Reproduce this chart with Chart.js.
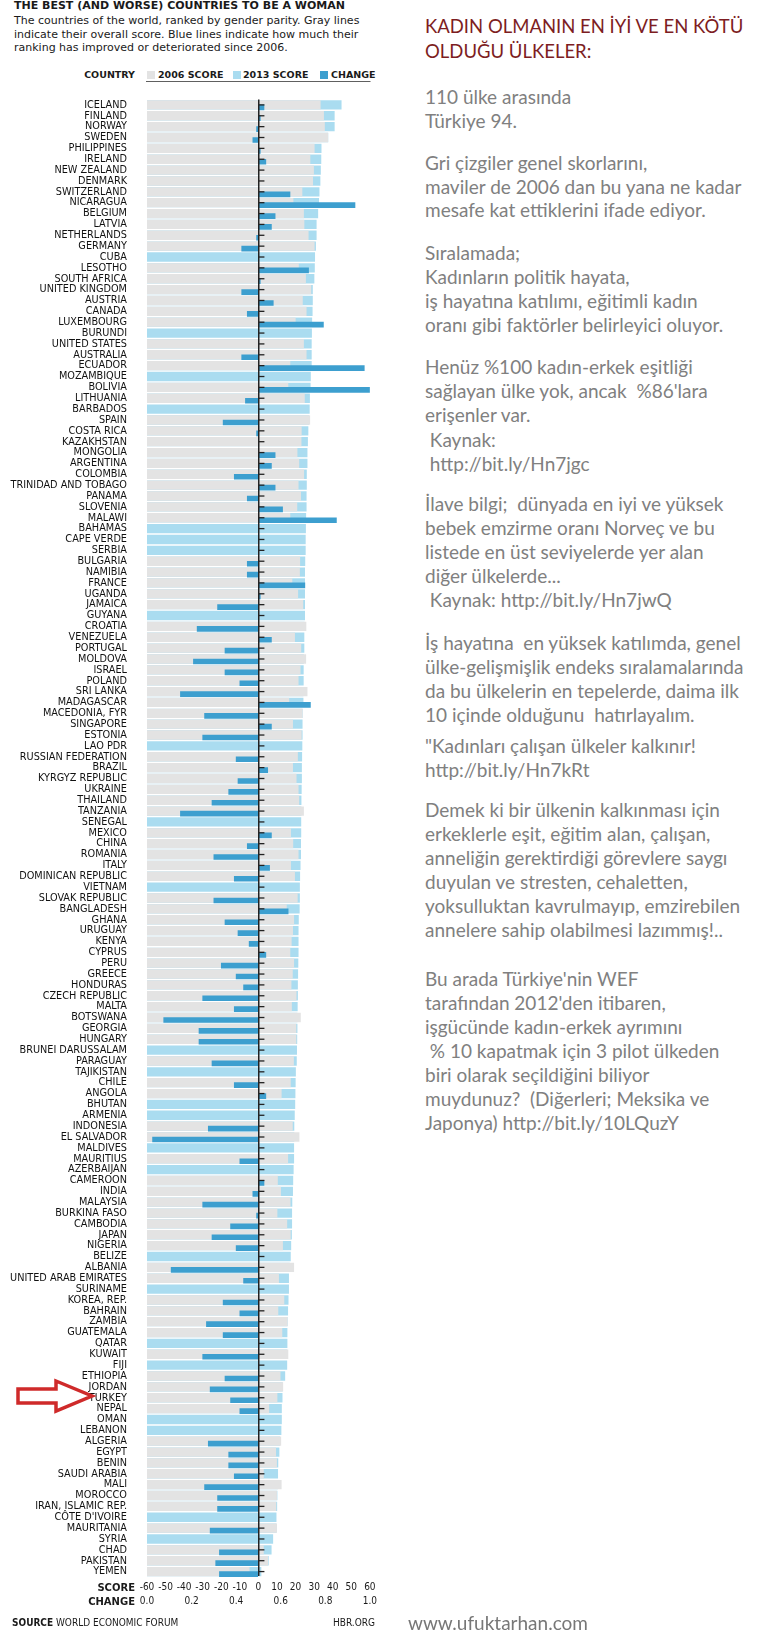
<!DOCTYPE html>
<html>
<head>
<meta charset="utf-8">
<script src="https://cdn.jsdelivr.net/npm/chart.js@4.4.0/dist/chart.umd.min.js"></script>
<style>
body { margin: 0; background: #fff; width: 772px; height: 1648px; position: relative; overflow: hidden; font-family: Roboto, sans-serif; color: #1a1a1a; }
.abs { position: absolute; white-space: pre; }
.hbr-title { left: 14px; top: 0px; font: bold 11px/12px "DejaVu Sans", sans-serif; }
.hbr-sub { left: 14px; top: 14px; font: 11px/13.5px "DejaVu Sans", sans-serif; }
.legend { top: 69px; font: bold 9.5px/12px "DejaVu Sans", sans-serif; }
.sw { position: absolute; top: 71px; width: 8px; height: 8px; }
.axis-name { font: bold 10px/12px "DejaVu Sans", sans-serif; width: 120px; text-align: right; left: 15px; }
.foot { font: 10px/12px "DejaVu Sans Condensed", Roboto, sans-serif; top: 1617px; }
.note { left: 425px; font: 19px/24px Lato, sans-serif; color: #808080; }
</style>
</head>
<body>

<div class="abs hbr-title">THE BEST (AND WORSE) COUNTRIES TO BE A WOMAN</div>
<div class="abs hbr-sub">The countries of the world, ranked by gender parity. Gray lines
indicate their overall score. Blue lines indicate how much their
ranking has improved or deteriorated since 2006.</div>

<div class="abs legend" style="left:15px;width:120px;text-align:right">COUNTRY</div>
<div class="sw" style="left:147px;background:#e3e3e3"></div>
<div class="abs legend" style="left:158px">2006 SCORE</div>
<div class="sw" style="left:233px;background:#aadcf0"></div>
<div class="abs legend" style="left:243px">2013 SCORE</div>
<div class="sw" style="left:320px;background:#3d9fcf"></div>
<div class="abs legend" style="left:331px">CHANGE</div>

<canvas id="genderChart" width="380" height="1530" style="position:absolute;left:0;top:81px"></canvas>

<div class="abs axis-name" style="top:1582px">SCORE</div>
<div class="abs axis-name" style="top:1596px">CHANGE</div>

<div class="abs foot" style="left:12px"><b>SOURCE</b> WORLD ECONOMIC FORUM</div>
<div class="abs foot" style="left:255px;width:120px;text-align:right">HBR.ORG</div>
<div class="abs" style="left:408px;top:1610px;font:19px/26px Lato,sans-serif;color:#777">www.ufuktarhan.com</div>

<svg class="abs" style="left:14px;top:1376px" width="84" height="40">
  <polygon points="4,13 42,13 42,5 78,20 42,35 42,27 4,27" fill="#fff" stroke="#cf2a2a" stroke-width="3.5" stroke-linejoin="miter"/>
</svg>

<div class="abs note" style="top:14px;line-height:25px;font-size:18.5px;color:#7d1d22">KADIN OLMANIN EN İYİ VE EN KÖTÜ
OLDUĞU ÜLKELER:</div>
<div class="abs note" style="top:85px">110 ülke arasında
Türkiye 94.</div>
<div class="abs note" style="top:151px;line-height:23.5px">Gri çizgiler genel skorlarını,
maviler de 2006 dan bu yana ne kadar
mesafe kat ettiklerini ifade ediyor.</div>
<div class="abs note" style="top:241px">Sıralamada;
Kadınların politik hayata,
iş hayatına katılımı, eğitimli kadın
oranı gibi faktörler belirleyici oluyor.</div>
<div class="abs note" style="top:355px;line-height:24.2px">Henüz %100 kadın-erkek eşitliği
sağlayan ülke yok, ancak  %86'lara
erişenler var.
 Kaynak:
 http://bit.ly/Hn7jgc</div>
<div class="abs note" style="top:492px">İlave bilgi;  dünyada en iyi ve yüksek
bebek emzirme oranı Norveç ve bu
listede en üst seviyelerde yer alan
diğer ülkelerde...
 Kaynak: http://bit.ly/Hn7jwQ</div>
<div class="abs note" style="top:631px">İş hayatına  en yüksek katılımda, genel
ülke-gelişmişlik endeks sıralamalarında
da bu ülkelerin en tepelerde, daima ilk
10 içinde olduğunu  hatırlayalım.</div>
<div class="abs note" style="top:734px">"Kadınları çalışan ülkeler kalkınır!
http://bit.ly/Hn7kRt</div>
<div class="abs note" style="top:798px">Demek ki bir ülkenin kalkınması için
erkeklerle eşit, eğitim alan, çalışan,
anneliğin gerektirdiği görevlere saygı
duyulan ve stresten, cehaletten,
yoksulluktan kavrulmayıp, emzirebilen
annelere sahip olabilmesi lazımmış!..</div>
<div class="abs note" style="top:967px">Bu arada Türkiye'nin WEF
tarafından 2012'den itibaren,
işgücünde kadın-erkek ayrımını
 % 10 kapatmak için 3 pilot ülkeden
biri olarak seçildiğini biliyor
muydunuz?  (Diğerleri; Meksika ve
Japonya) http://bit.ly/10LQuzY</div>

<script>
const countries = [
    'ICELAND', 'FINLAND', 'NORWAY', 'SWEDEN', 'PHILIPPINES', 'IRELAND', 'NEW ZEALAND', 'DENMARK',
    'SWITZERLAND', 'NICARAGUA', 'BELGIUM', 'LATVIA', 'NETHERLANDS', 'GERMANY', 'CUBA', 'LESOTHO',
    'SOUTH AFRICA', 'UNITED KINGDOM', 'AUSTRIA', 'CANADA', 'LUXEMBOURG', 'BURUNDI', 'UNITED STATES', 'AUSTRALIA',
    'ECUADOR', 'MOZAMBIQUE', 'BOLIVIA', 'LITHUANIA', 'BARBADOS', 'SPAIN', 'COSTA RICA', 'KAZAKHSTAN',
    'MONGOLIA', 'ARGENTINA', 'COLOMBIA', 'TRINIDAD AND TOBAGO', 'PANAMA', 'SLOVENIA', 'MALAWI', 'BAHAMAS',
    'CAPE VERDE', 'SERBIA', 'BULGARIA', 'NAMIBIA', 'FRANCE', 'UGANDA', 'JAMAICA', 'GUYANA',
    'CROATIA', 'VENEZUELA', 'PORTUGAL', 'MOLDOVA', 'ISRAEL', 'POLAND', 'SRI LANKA', 'MADAGASCAR',
    'MACEDONIA, FYR', 'SINGAPORE', 'ESTONIA', 'LAO PDR', 'RUSSIAN FEDERATION', 'BRAZIL', 'KYRGYZ REPUBLIC', 'UKRAINE',
    'THAILAND', 'TANZANIA', 'SENEGAL', 'MEXICO', 'CHINA', 'ROMANIA', 'ITALY', 'DOMINICAN REPUBLIC',
    'VIETNAM', 'SLOVAK REPUBLIC', 'BANGLADESH', 'GHANA', 'URUGUAY', 'KENYA', 'CYPRUS', 'PERU',
    'GREECE', 'HONDURAS', 'CZECH REPUBLIC', 'MALTA', 'BOTSWANA', 'GEORGIA', 'HUNGARY', 'BRUNEI DARUSSALAM',
    'PARAGUAY', 'TAJIKISTAN', 'CHILE', 'ANGOLA', 'BHUTAN', 'ARMENIA', 'INDONESIA', 'EL SALVADOR',
    'MALDIVES', 'MAURITIUS', 'AZERBAIJAN', 'CAMEROON', 'INDIA', 'MALAYSIA', 'BURKINA FASO', 'CAMBODIA',
    'JAPAN', 'NIGERIA', 'BELIZE', 'ALBANIA', 'UNITED ARAB EMIRATES', 'SURINAME', 'KOREA, REP.', 'BAHRAIN',
    'ZAMBIA', 'GUATEMALA', 'QATAR', 'KUWAIT', 'FIJI', 'ETHIOPIA', 'JORDAN', 'TURKEY',
    'NEPAL', 'OMAN', 'LEBANON', 'ALGERIA', 'EGYPT', 'BENIN', 'SAUDI ARABIA', 'MALI',
    'MOROCCO', 'IRAN, ISLAMIC REP.', 'CÔTE D\'IVOIRE', 'MAURITANIA', 'SYRIA', 'CHAD', 'PAKISTAN', 'YEMEN'
];

// gray bars (null = not ranked in 2006)
const score2006 = [
    0.779, 0.794, 0.798, 0.813, 0.752, 0.733, 0.749, 0.745,
    0.697, 0.657, 0.704, 0.706, 0.725, 0.752, null, 0.681,
    0.713, 0.737, 0.699, 0.716, 0.667, null, 0.704, 0.716,
    0.643, null, 0.634, 0.708, null, 0.732, 0.694, 0.693,
    0.675, 0.683, 0.705, 0.680, 0.691, 0.674, 0.643, null,
    null, null, 0.687, 0.686, 0.652, 0.678, 0.701, null,
    0.715, 0.664, 0.692, 0.714, 0.689, 0.680, 0.720, 0.638,
    0.698, 0.655, 0.694, null, 0.677, 0.655, 0.671, 0.680,
    0.683, 0.704, null, 0.646, 0.656, 0.680, 0.646, 0.664,
    null, 0.676, 0.627, 0.660, 0.655, 0.649, 0.643, 0.660,
    0.654, 0.648, 0.671, 0.650, 0.690, 0.670, 0.670, null,
    0.659, null, 0.645, 0.604, null, null, 0.654, 0.684,
    null, 0.633, null, 0.587, 0.601, 0.644, 0.585, 0.629,
    0.645, 0.610, null, 0.660, 0.592, null, 0.616, 0.589,
    0.631, 0.607, null, 0.634, null, 0.599, 0.611, 0.585,
    0.548, null, null, 0.602, 0.579, 0.583, 0.524, 0.604,
    0.583, 0.580, null, 0.583, null, 0.524, 0.543, 0.460
];

// light blue bars
const score2013 = [
    0.873, 0.842, 0.842, 0.813, 0.783, 0.782, 0.780, 0.778,
    0.774, 0.772, 0.768, 0.761, 0.761, 0.758, 0.754, 0.753,
    0.751, 0.744, 0.744, 0.743, 0.741, 0.740, 0.739, 0.739,
    0.739, 0.735, 0.734, 0.731, 0.730, 0.727, 0.724, 0.722,
    0.720, 0.720, 0.717, 0.717, 0.716, 0.716, 0.714, 0.713,
    0.712, 0.712, 0.710, 0.709, 0.709, 0.709, 0.709, 0.709,
    0.707, 0.706, 0.706, 0.704, 0.703, 0.703, 0.702, 0.702,
    0.698, 0.698, 0.698, 0.697, 0.696, 0.695, 0.695, 0.694,
    0.693, 0.693, 0.692, 0.692, 0.691, 0.691, 0.689, 0.687,
    0.686, 0.686, 0.685, 0.681, 0.680, 0.680, 0.680, 0.679,
    0.678, 0.677, 0.677, 0.676, 0.675, 0.675, 0.674, 0.673,
    0.672, 0.668, 0.667, 0.666, 0.665, 0.663, 0.661, 0.661,
    0.660, 0.660, 0.658, 0.656, 0.655, 0.652, 0.651, 0.651,
    0.650, 0.647, 0.645, 0.641, 0.637, 0.637, 0.635, 0.633,
    0.631, 0.630, 0.630, 0.629, 0.629, 0.620, 0.609, 0.608,
    0.605, 0.605, 0.603, 0.597, 0.594, 0.589, 0.588, 0.587,
    0.585, 0.584, 0.581, 0.581, 0.566, 0.559, 0.546, 0.513
];

// blue bars: ranking change since 2006
const rankChange = [
    3, 1, -1, -3, 1, 4, 0, 0,
    17, 52, 9, 7, -1, -9, null, 27,
    1, -9, 8, -6, 35, null, 0, -9,
    57, null, 60, -7, null, -19, -1, 0,
    9, 7, -13, 9, -6, 13, 42, null,
    null, null, -6, -6, 25, 1, -22, null,
    -33, 7, -18, -35, -18, -10, -42, 28,
    -29, 7, -30, null, -12, 5, -11, -16,
    -25, -42, null, 7, -6, -24, 6, -13,
    null, -24, 16, -18, -11, -5, 4, -20,
    -12, -8, -30, -13, -51, -32, -32, null,
    -25, null, -13, 4, null, null, -27, -57,
    null, -10, null, 3, -3, -30, -1, -15,
    -25, -12, null, -47, -8, null, -19, -10,
    -28, -19, null, -30, null, -18, -26, -15,
    -10, null, null, -27, -16, -16, -13, -29,
    -22, -22, null, -26, null, -21, -23, -21
];

const rankTicks = [-60, -50, -40, -30, -20, -10, 0, 10, 20, 30, 40, 50, 60];
const scoreTicks = [0, 0.2, 0.4, 0.6, 0.8, 1.0];

const labelFont = { family: '"DejaVu Sans Condensed", Roboto, sans-serif', size: 10.8 };
const tickFont = { family: '"DejaVu Sans Condensed", Roboto, sans-serif', size: 10 };

// little dark dash to the right of the zero line on every row
const rowDashes = {
    id: 'rowDashes',
    afterDatasetsDraw(chart) {
        const ctx = chart.ctx;
        const x0 = chart.scales.rank.getPixelForValue(0);
        ctx.save();
        ctx.strokeStyle = '#222';
        ctx.lineWidth = 1.3;
        countries.forEach((c, i) => {
            const y = chart.scales.y.getPixelForValue(i);
            ctx.beginPath();
            ctx.moveTo(x0, y);
            ctx.lineTo(x0 + 6, y);
            ctx.stroke();
        });
        ctx.restore();
    }
};

let chart;

function drawChart() {
    const ctx = document.getElementById('genderChart').getContext('2d');
    chart = new Chart(ctx, {
        type: 'bar',
        data: {
            labels: countries,
            datasets: [
                {
                    label: '2006 SCORE',
                    data: score2006,
                    xAxisID: 'score',
                    backgroundColor: '#e3e3e3',
                    grouped: false,
                    stack: 'g',
                    order: 1,
                    categoryPercentage: 1,
                    barPercentage: 0.86
                },
                {
                    label: '2013 SCORE',
                    data: score2013,
                    xAxisID: 'score',
                    backgroundColor: '#aadcf0',
                    grouped: false,
                    stack: 'g',
                    order: 2,
                    categoryPercentage: 1,
                    barPercentage: 0.86
                },
                {
                    // empty slot so the change bar sits in the lower half of the row
                    label: '',
                    data: countries.map(() => null),
                    xAxisID: 'rank',
                    stack: 'g',
                    order: 0,
                    barThickness: 5
                },
                {
                    label: 'CHANGE',
                    data: rankChange,
                    xAxisID: 'rank',
                    backgroundColor: '#3d9fcf',
                    stack: 'c',
                    order: 0,
                    barThickness: 5
                }
            ]
        },
        options: {
            indexAxis: 'y',
            responsive: false,
            animation: false,
            layout: { padding: { top: 10, right: 10, bottom: 3, left: 0 } },
            plugins: {
                legend: { display: false },
                tooltip: { enabled: false }
            },
            scales: {
                y: {
                    type: 'category',
                    grid: { display: false },
                    border: { display: false },
                    ticks: {
                        autoSkip: false,
                        padding: 12,
                        color: '#111',
                        font: labelFont
                    },
                    afterFit: (scale) => { scale.width = 147; }
                },
                rank: {
                    type: 'linear',
                    position: 'bottom',
                    weight: 0,
                    min: -60,
                    max: 60,
                    stacked: false,
                    afterBuildTicks: (scale) => { scale.ticks = rankTicks.map(v => ({ value: v })); },
                    afterFit: (scale) => { scale.height = 15; },
                    ticks: {
                        autoSkip: false,
                        maxRotation: 0,
                        padding: 4,
                        color: '#1a1a1a',
                        font: tickFont
                    },
                    grid: {
                        z: 1,
                        drawTicks: false,
                        lineWidth: 1.5,
                        color: (c) => (c.tick && c.tick.value === 0 ? '#222' : 'rgba(0,0,0,0)')
                    },
                    border: { display: true, color: '#2b2b2b', width: 1.5 }
                },
                score: {
                    type: 'linear',
                    position: 'bottom',
                    weight: 1,
                    min: 0,
                    max: 1,
                    stacked: false,
                    afterBuildTicks: (scale) => { scale.ticks = scoreTicks.map(v => ({ value: v })); },
                    afterFit: (scale) => { scale.height = 16; },
                    ticks: {
                        autoSkip: false,
                        maxRotation: 0,
                        padding: 3,
                        color: '#1a1a1a',
                        font: tickFont,
                        callback: (v) => Number(v).toFixed(1)
                    },
                    grid: { display: false, drawTicks: false },
                    border: { display: false }
                }
            }
        },
        plugins: [rowDashes]
    });
}

window.onload = () => {
    drawChart();
};
</script>
</body>
</html>
